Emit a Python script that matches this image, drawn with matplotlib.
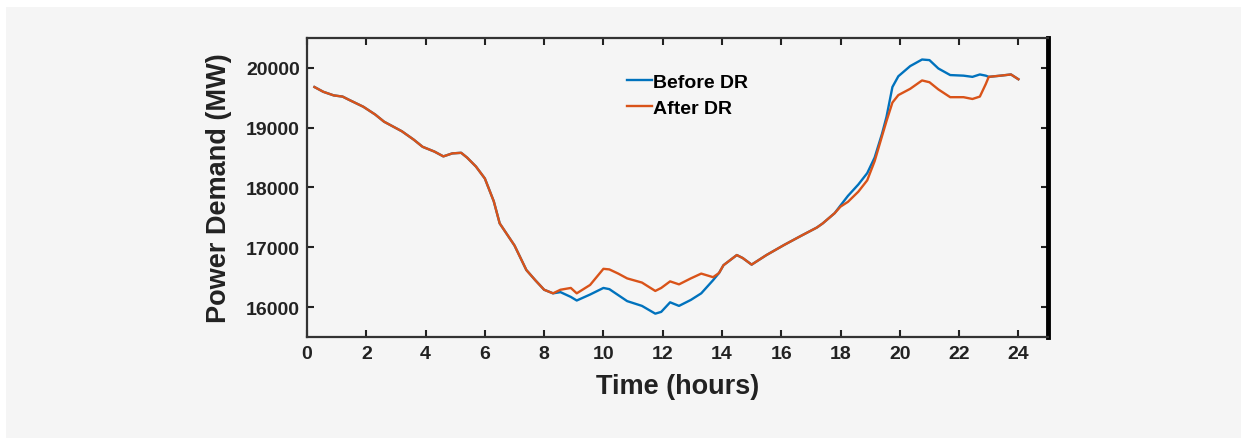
import matplotlib.pyplot as plt
from matplotlib.patches import Rectangle

# Hourly load profile, before and after demand response
hours = [0.25, 0.55, 0.9, 1.2, 1.4, 1.9, 2.3, 2.6, 3.2, 3.6, 3.9, 4.3, 4.6, 4.9,
         5.2, 5.4, 5.7, 6.0, 6.3, 6.5, 7.0, 7.4, 7.7, 8.0, 8.3, 8.55, 8.9, 9.1,
         9.55, 10.0, 10.2, 10.5, 10.8, 11.3, 11.75, 11.95, 12.25, 12.55, 12.95,
         13.3, 13.7, 13.9, 14.05, 14.5, 14.7, 15.0, 15.5, 16.1, 16.7, 17.2, 17.4,
         17.8, 18.0, 18.25, 18.6, 18.9, 19.15, 19.4, 19.55, 19.75, 19.95, 20.35,
         20.75, 21.0, 21.3, 21.7, 22.15, 22.45, 22.7, 22.9, 23.0, 23.4, 23.75, 24.0]

before_dr = [19680, 19600, 19540, 19520, 19470, 19350, 19220, 19100, 18940, 18800,
             18680, 18600, 18520, 18570, 18580, 18500, 18350, 18150, 17770, 17400,
             17030, 16620, 16450, 16290, 16230, 16250, 16170, 16110, 16210, 16320,
             16300, 16200, 16100, 16020, 15890, 15920, 16080, 16020, 16120, 16230,
             16450, 16570, 16700, 16870, 16820, 16710, 16870, 17040, 17200, 17330,
             17400, 17570, 17700, 17860, 18050, 18240, 18500, 18900, 19180, 19680,
             19860, 20030, 20140, 20130, 19990, 19880, 19870, 19850, 19890, 19870,
             19850, 19870, 19890, 19810]

after_dr = [19680, 19600, 19540, 19520, 19470, 19350, 19220, 19100, 18940, 18800,
            18680, 18600, 18520, 18570, 18580, 18500, 18350, 18150, 17770, 17400,
            17030, 16620, 16450, 16290, 16230, 16290, 16320, 16230, 16370, 16640,
            16630, 16560, 16480, 16410, 16270, 16320, 16430, 16380, 16480, 16560,
            16500, 16570, 16700, 16870, 16820, 16710, 16870, 17040, 17200, 17330,
            17400, 17570, 17680, 17760, 17930, 18120, 18440, 18860, 19110, 19420,
            19545, 19650, 19790, 19760, 19640, 19510, 19510, 19480, 19520, 19730,
            19850, 19870, 19890, 19810]

x_ticks = list(range(0, 25, 2))
y_ticks = [16000, 17000, 18000, 19000, 20000]

plt.rcParams['font.family'] = ['Liberation Sans', 'DejaVu Sans']
plt.rcParams['font.weight'] = 'bold'

fig = plt.figure(figsize=(12.41, 4.39), dpi=100, facecolor='white')
fig.patches.append(Rectangle((6 / 1241, 0), 1, 1 - 8 / 439, transform=fig.transFigure,
                             facecolor='#f5f5f5', edgecolor='none', zorder=-10))

ax = fig.add_axes([0.2474, 0.2301, 0.5971, 0.6811])
ax.set_facecolor('#f5f5f5')

ax.plot(hours, before_dr, color='#0072BD', lw=1.7, label='Before DR')
ax.plot(hours, after_dr, color='#D95319', lw=1.7, label='After DR')

ax.set_xlim(0, 25)
ax.set_ylim(15500, 20500)
ax.set_xticks(x_ticks)
ax.set_yticks(y_ticks)

ax.tick_params(direction='in', length=5, width=1.5, top=True, right=True,
               labelsize=14, colors='#222222', pad=6)
ax.tick_params(axis='y', pad=5)
for lbl in ax.get_xticklabels() + ax.get_yticklabels():
    lbl.set_fontweight('bold')

for side in ['left', 'bottom', 'top']:
    ax.spines[side].set_linewidth(1.6)
    ax.spines[side].set_color('#333333')
ax.spines['right'].set_linewidth(3.5)
ax.spines['right'].set_color('black')

ax.set_xlabel('Time (hours)', fontsize=19.5, fontweight='bold', color='#222222', labelpad=8)
ax.set_ylabel('Power Demand (MW)', fontsize=19.5, fontweight='bold', color='#222222', labelpad=10)

ax.legend(loc='upper left', bbox_to_anchor=(0.432, 0.882), frameon=False,
          handlelength=1.3, handletextpad=0.05, labelspacing=0.45,
          borderpad=0, borderaxespad=0, prop={'weight': 'bold', 'size': 14})

fig.savefig('out.png', dpi=100, facecolor=fig.get_facecolor())
